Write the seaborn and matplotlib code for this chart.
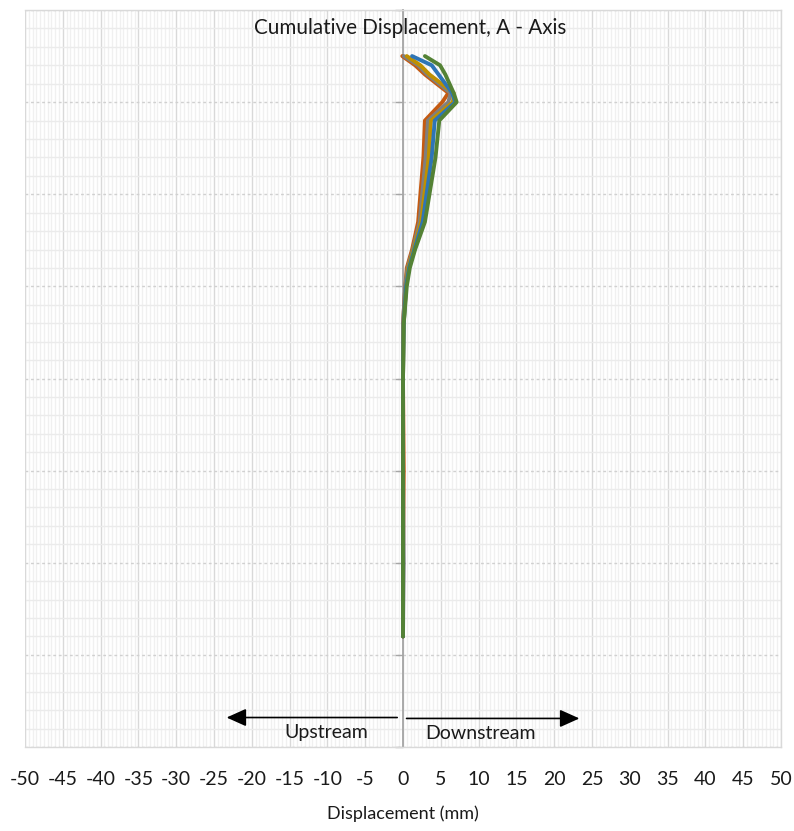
import pandas as pd
import numpy as np
import matplotlib.pyplot as plt
import seaborn as sns

sns.set_theme(style='white')
plt.rcParams['font.family'] = ['Lato', 'DejaVu Sans']

# Profundidades de lectura (eje vertical, crece hacia abajo)
depths = [5, 6, 7, 9, 10, 12, 16, 23, 26, 28, 30, 34, 40, 50, 60, 68]

# Desplazamiento acumulado (mm) por lectura
serie_1 = [-0.1, 1.6, 2.9, 6.0, 5.2, 2.9, 2.7, 2.0, 1.2, 0.5, 0.3, 0.0, 0.0, 0.1, 0.0, 0.0]
serie_2 = [0.1, 2.0, 3.2, 6.3, 6.0, 3.3, 3.0, 2.2, 1.3, 0.6, 0.3, 0.0, 0.0, 0.0, 0.1, 0.0]
serie_3 = [0.5, 2.3, 3.5, 6.7, 6.6, 3.7, 3.4, 2.4, 1.4, 0.7, 0.4, 0.1, 0.0, 0.0, 0.0, 0.0]
serie_4 = [1.2, 3.8, 4.7, 6.5, 6.9, 4.2, 3.8, 2.6, 1.5, 0.8, 0.4, 0.1, 0.0, 0.0, 0.0, 0.0]
serie_5 = [2.9, 4.9, 5.6, 6.7, 7.1, 4.8, 4.3, 2.9, 1.6, 0.9, 0.5, 0.1, 0.0, 0.0, 0.0, 0.0]

series_names = ['Reading 1', 'Reading 2', 'Reading 3', 'Reading 4', 'Reading 5']
series_values = [serie_1, serie_2, serie_3, serie_4, serie_5]
colores = ['#C55A11', '#7F7F7F', '#BF9000', '#2E75B6', '#548235']

xticks = list(range(-50, 55, 5))

df = pd.concat(
    [pd.DataFrame({'Depth': depths, 'Displacement': v, 'Reading': n})
     for n, v in zip(series_names, series_values)],
    ignore_index=True,
)

fig = plt.figure(figsize=(7.94, 8.31), dpi=100)
ax = fig.add_axes([25 / 794, 1 - 747 / 831, 756 / 794, 737 / 831])

# Rejilla
ax.set_xlim(-50, 50)
ax.set_ylim(80, 0)
ax.set_xticks(xticks)
ax.set_xticks(np.arange(-50, 50.01, 0.5), minor=True)
ax.set_yticks(np.arange(0, 81, 10))
ax.set_yticks(np.arange(0, 81, 2), minor=True)
ax.grid(which='minor', axis='x', color='#F0F0F0', lw=1.0)
ax.grid(which='major', axis='x', color='#D9D9D9', lw=1.0)
ax.grid(which='minor', axis='y', color='#EBEBEB', lw=1.0)
ax.grid(which='major', axis='y', color='#D0D0D0', lw=1.0, linestyle=(0, (2, 2)))
ax.set_axisbelow(True)

sns.lineplot(data=df, x='Displacement', y='Depth', hue='Reading', palette=colores,
             sort=False, estimator=None, orient='y', lw=2.8, legend=False, ax=ax)

# Ejes
for s in ['top', 'right', 'bottom']:
    ax.spines[s].set_color('#D9D9D9')
    ax.spines[s].set_linewidth(1.0)
ax.spines['left'].set_position(('data', 0))
ax.spines['left'].set_color('#A6A6A6')
ax.spines['left'].set_linewidth(1.3)
ax.spines['left'].set_zorder(1.5)
ax.axvline(-50, color='#D9D9D9', lw=1.5)

ax.tick_params(axis='x', which='both', length=0, pad=17, labelsize=14, labelcolor='#1a1a1a')
ax.tick_params(axis='y', which='major', left=True, length=6, width=1, color='#A6A6A6',
               labelleft=False, direction='out')
ax.tick_params(axis='y', which='minor', length=0)
ax.set_xticklabels([str(t) for t in xticks])
ax.set_xlabel('Displacement (mm)', fontsize=13, labelpad=13, color='#1a1a1a')
ax.set_ylabel('')

fig.text(410 / 794, 1 - 28 / 831, 'Cumulative Displacement, A - Axis',
         ha='center', va='center', fontsize=14.9, color='#1a1a1a')

# Flechas de sentido
ax.annotate('', xy=(-23.7, 76.8), xytext=(-0.4, 76.8),
            arrowprops=dict(arrowstyle='-|>,head_length=1.0,head_width=0.45', color='black', lw=1.2))
ax.annotate('', xy=(23.7, 76.9), xytext=(0.1, 76.9),
            arrowprops=dict(arrowstyle='-|>,head_length=1.0,head_width=0.45', color='black', lw=1.2))
ax.text(-10.2, 78.4, 'Upstream', ha='center', va='center', fontsize=14, color='#1a1a1a')
ax.text(10.3, 78.5, 'Downstream', ha='center', va='center', fontsize=14, color='#1a1a1a')

fig.savefig('out.png', dpi=100)
